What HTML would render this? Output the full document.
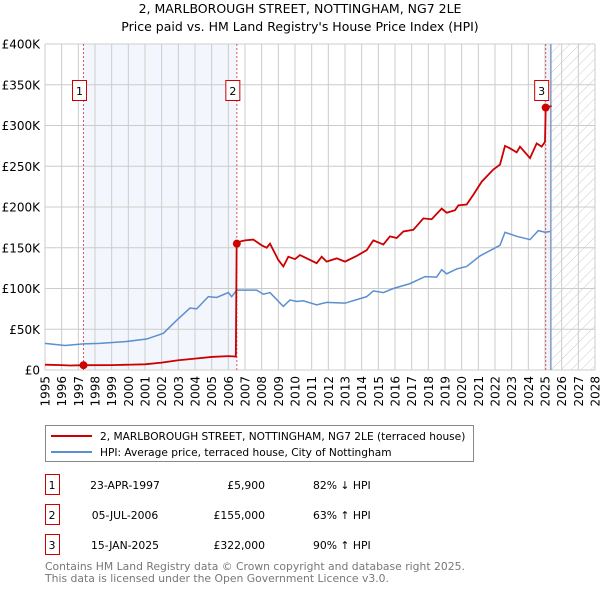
<!DOCTYPE html>
<html><head><meta charset="utf-8"><style>
body{margin:0;background:#fff;font-family:"DejaVu Sans","Liberation Sans",sans-serif;}
svg text{font-family:"DejaVu Sans","Liberation Sans",sans-serif;}
</style></head><body>
<svg id="c" width="600" height="590" viewBox="0 0 600 590" xmlns="http://www.w3.org/2000/svg">
<defs><pattern id="hatch" width="7" height="7" patternUnits="userSpaceOnUse" patternTransform="rotate(45)"><line x1="0" y1="0" x2="0" y2="7" stroke="#ccc" stroke-width="1"/></pattern></defs>
<text x="300" y="13" text-anchor="middle" font-size="12.5">2, MARLBOROUGH STREET, NOTTINGHAM, NG7 2LE</text>
<text x="300" y="31" text-anchor="middle" font-size="12.5">Price paid vs. HM Land Registry's House Price Index (HPI)</text>
<g id="plot"></g>
<g>
<rect x="45.5" y="425.5" width="428" height="36" fill="#fff" stroke="#888"/>
<line x1="51" y1="436" x2="92" y2="436" stroke="#cc0000" stroke-width="2"/>
<text x="100" y="440" font-size="10.6">2, MARLBOROUGH STREET, NOTTINGHAM, NG7 2LE (terraced house)</text>
<line x1="51" y1="452" x2="92" y2="452" stroke="#5b8fd0" stroke-width="2"/>
<text x="100" y="456" font-size="10.6">HPI: Average price, terraced house, City of Nottingham</text>
</g>
<g id="table" font-size="11"></g>
<text x="45" y="570" font-size="10.8" fill="#777">Contains HM Land Registry data © Crown copyright and database right 2025.</text>
<text x="45" y="582" font-size="10.8" fill="#777">This data is licensed under the Open Government Licence v3.0.</text>
</svg>
<script>
const hpiYears=[1995,1996.2,1997.3,1998.3,1999.9,2001.1,2002.1,2002.9,2003.7,2004.1,2004.8,2005.3,2006,2006.2,2006.5,2007.7,2008.1,2008.5,2009.3,2009.7,2010.1,2010.5,2011.3,2011.9,2013,2014.3,2014.7,2015.3,2015.9,2016.9,2017.8,2018.5,2018.8,2019.1,2019.7,2020.3,2021.1,2022.3,2022.6,2023.3,2024.1,2024.6,2025,2025.3];
const hpiValues=[32.7,30,32,32.7,35,38,45,61,76,75,90,89,95,90,98,98,93,95,78,86,84,85,80,83,82,90,97,95,100,106,114.6,114,123,118,124,127,140,153,169,164,160,171,169,170];
const priceYears=[1995,1996,1996.5,1997.3,1999,2001,2002,2003,2004,2005,2006,2006.45,2006.5,2006.7,2007,2007.5,2008,2008.3,2008.5,2009,2009.3,2009.6,2010,2010.3,2011.3,2011.6,2011.9,2012.5,2013,2013.7,2014.3,2014.7,2015.3,2015.7,2016.1,2016.5,2017.1,2017.7,2018.2,2018.8,2019.1,2019.6,2019.8,2020.3,2020.7,2021.2,2021.9,2022.3,2022.6,2022.9,2023.3,2023.5,2024.1,2024.5,2024.8,2025.0,2025.04,2025.4];
const priceValues=[6.5,6,5.5,5.9,6,7,9,12,14,16,17,16.5,155,157.6,159,160,153,150,155,135,127,139,136,141,131,139,133,137,133,140,147,159,154,164,162,170,172,186,185,198,193,196,202,203,215,231,246,252,275,272,267,274,260,278,274,280,322,324];
const saleYears=[1997.31,2006.51,2025.04];
const saleValues=[5.9,155,322];
const saleLabels=["1","2","3"];
const saleDates=["23-APR-1997","05-JUL-2006","15-JAN-2025"];
const salePrices=["£5,900","£155,000","£322,000"];
const saleHpi=["82% ↓ HPI","63% ↑ HPI","90% ↑ HPI"];
const yTicks=[0,50,100,150,200,250,300,350,400];
const yTickLabels=["£0","£50K","£100K","£150K","£200K","£250K","£300K","£350K","£400K"];
const xTicks=[];for(let y=1995;y<=2028;y++)xTicks.push(y);

const X0=45,X1=595,Y0=370,Y1=44;
const xs=y=>X0+(y-1995)/(2028-1995)*(X1-X0);
const ys=v=>Y0-v/400*(Y0-Y1);
const NS="http://www.w3.org/2000/svg";
const plot=document.getElementById('plot');
function mk(tag,attrs,parent){const e=document.createElementNS(NS,tag);for(const k in attrs)e.setAttribute(k,attrs[k]);(parent||plot).appendChild(e);return e;}
const lastData=2025.35;
let e;
e=mk('rect',{x:xs(saleYears[0]),y:Y1,width:xs(saleYears[1])-xs(saleYears[0]),height:Y0-Y1,fill:'#eef3fc',opacity:0.7});


e=mk('rect',{x:xs(saleYears[2]),y:Y1,width:xs(lastData)-xs(saleYears[2]),height:Y0-Y1,fill:'#eef3fc'});


e=mk('rect',{x:xs(lastData),y:Y1,width:X1-xs(lastData),height:Y0-Y1,fill:'url(#hatch)'});


yTicks.forEach((t,i)=>{
  const l=mk('line',{x1:X0,x2:X1,y1:ys(t),y2:ys(t),stroke:'#ccc','stroke-width':1});
  
  
  const tx=mk('text',{x:40,y:ys(t)+4.5,'text-anchor':'end','font-size':12});
  tx.textContent=yTickLabels[i];
  
  
});
xTicks.forEach(t=>{
  const l=mk('line',{x1:xs(t),x2:xs(t),y1:Y1,y2:Y0,stroke:'#ccc','stroke-width':1});
  
  
  const tx=mk('text',{x:0,y:0,'text-anchor':'end','font-size':12,transform:`translate(${xs(t)+4.5},376) rotate(-90)`});
  tx.textContent=t;
  
  
});
e=mk('line',{x1:xs(lastData),x2:xs(lastData),y1:Y1,y2:Y0,stroke:'#8899bb','stroke-width':1.5});


saleYears.forEach((y,i)=>{
  const l=mk('line',{x1:xs(y),x2:xs(y),y1:Y1,y2:Y0,stroke:'#e05555','stroke-width':1,'stroke-dasharray':'2,2'});
  
  
  const bx=xs(y)-11;
  const r=mk('rect',{x:bx,y:80.5,width:14,height:20,fill:'#fff',stroke:'#cc0000'});
  
  
  const t=mk('text',{x:bx+7,y:95,'text-anchor':'middle','font-size':11});
  t.textContent=saleLabels[i];
  
  
});
e=mk('polyline',{points:hpiYears.map((y,i)=>xs(y)+','+ys(hpiValues[i])).join(' '),fill:'none',stroke:'#5b8fd0','stroke-width':1.5});


e=mk('polyline',{points:priceYears.map((y,i)=>xs(y)+','+ys(priceValues[i])).join(' '),fill:'none',stroke:'#cc0000','stroke-width':1.8});


saleYears.forEach((y,i)=>{
  const c=mk('circle',{cx:xs(y),cy:ys(saleValues[i]),r:4,fill:'#cc0000'});
  
  
});
const tb=document.getElementById('table');
saleLabels.forEach((s,i)=>{
  const yy=485+i*30;
  const r=mk('rect',{x:45.5,y:yy-10.5,width:14,height:20,fill:'#fff',stroke:'#cc0000'},tb);
  
  
  const cells=[[52,'middle',s],[125,'middle',saleDates[i]],[265,'end',salePrices[i]],[313,'start',saleHpi[i]]];
  cells.forEach(c=>{
    const t=mk('text',{x:c[0],y:yy+4,'text-anchor':c[1],'font-size':10.8},tb);
    t.textContent=c[2];
    
    
  });
});
</script>
</body></html>
